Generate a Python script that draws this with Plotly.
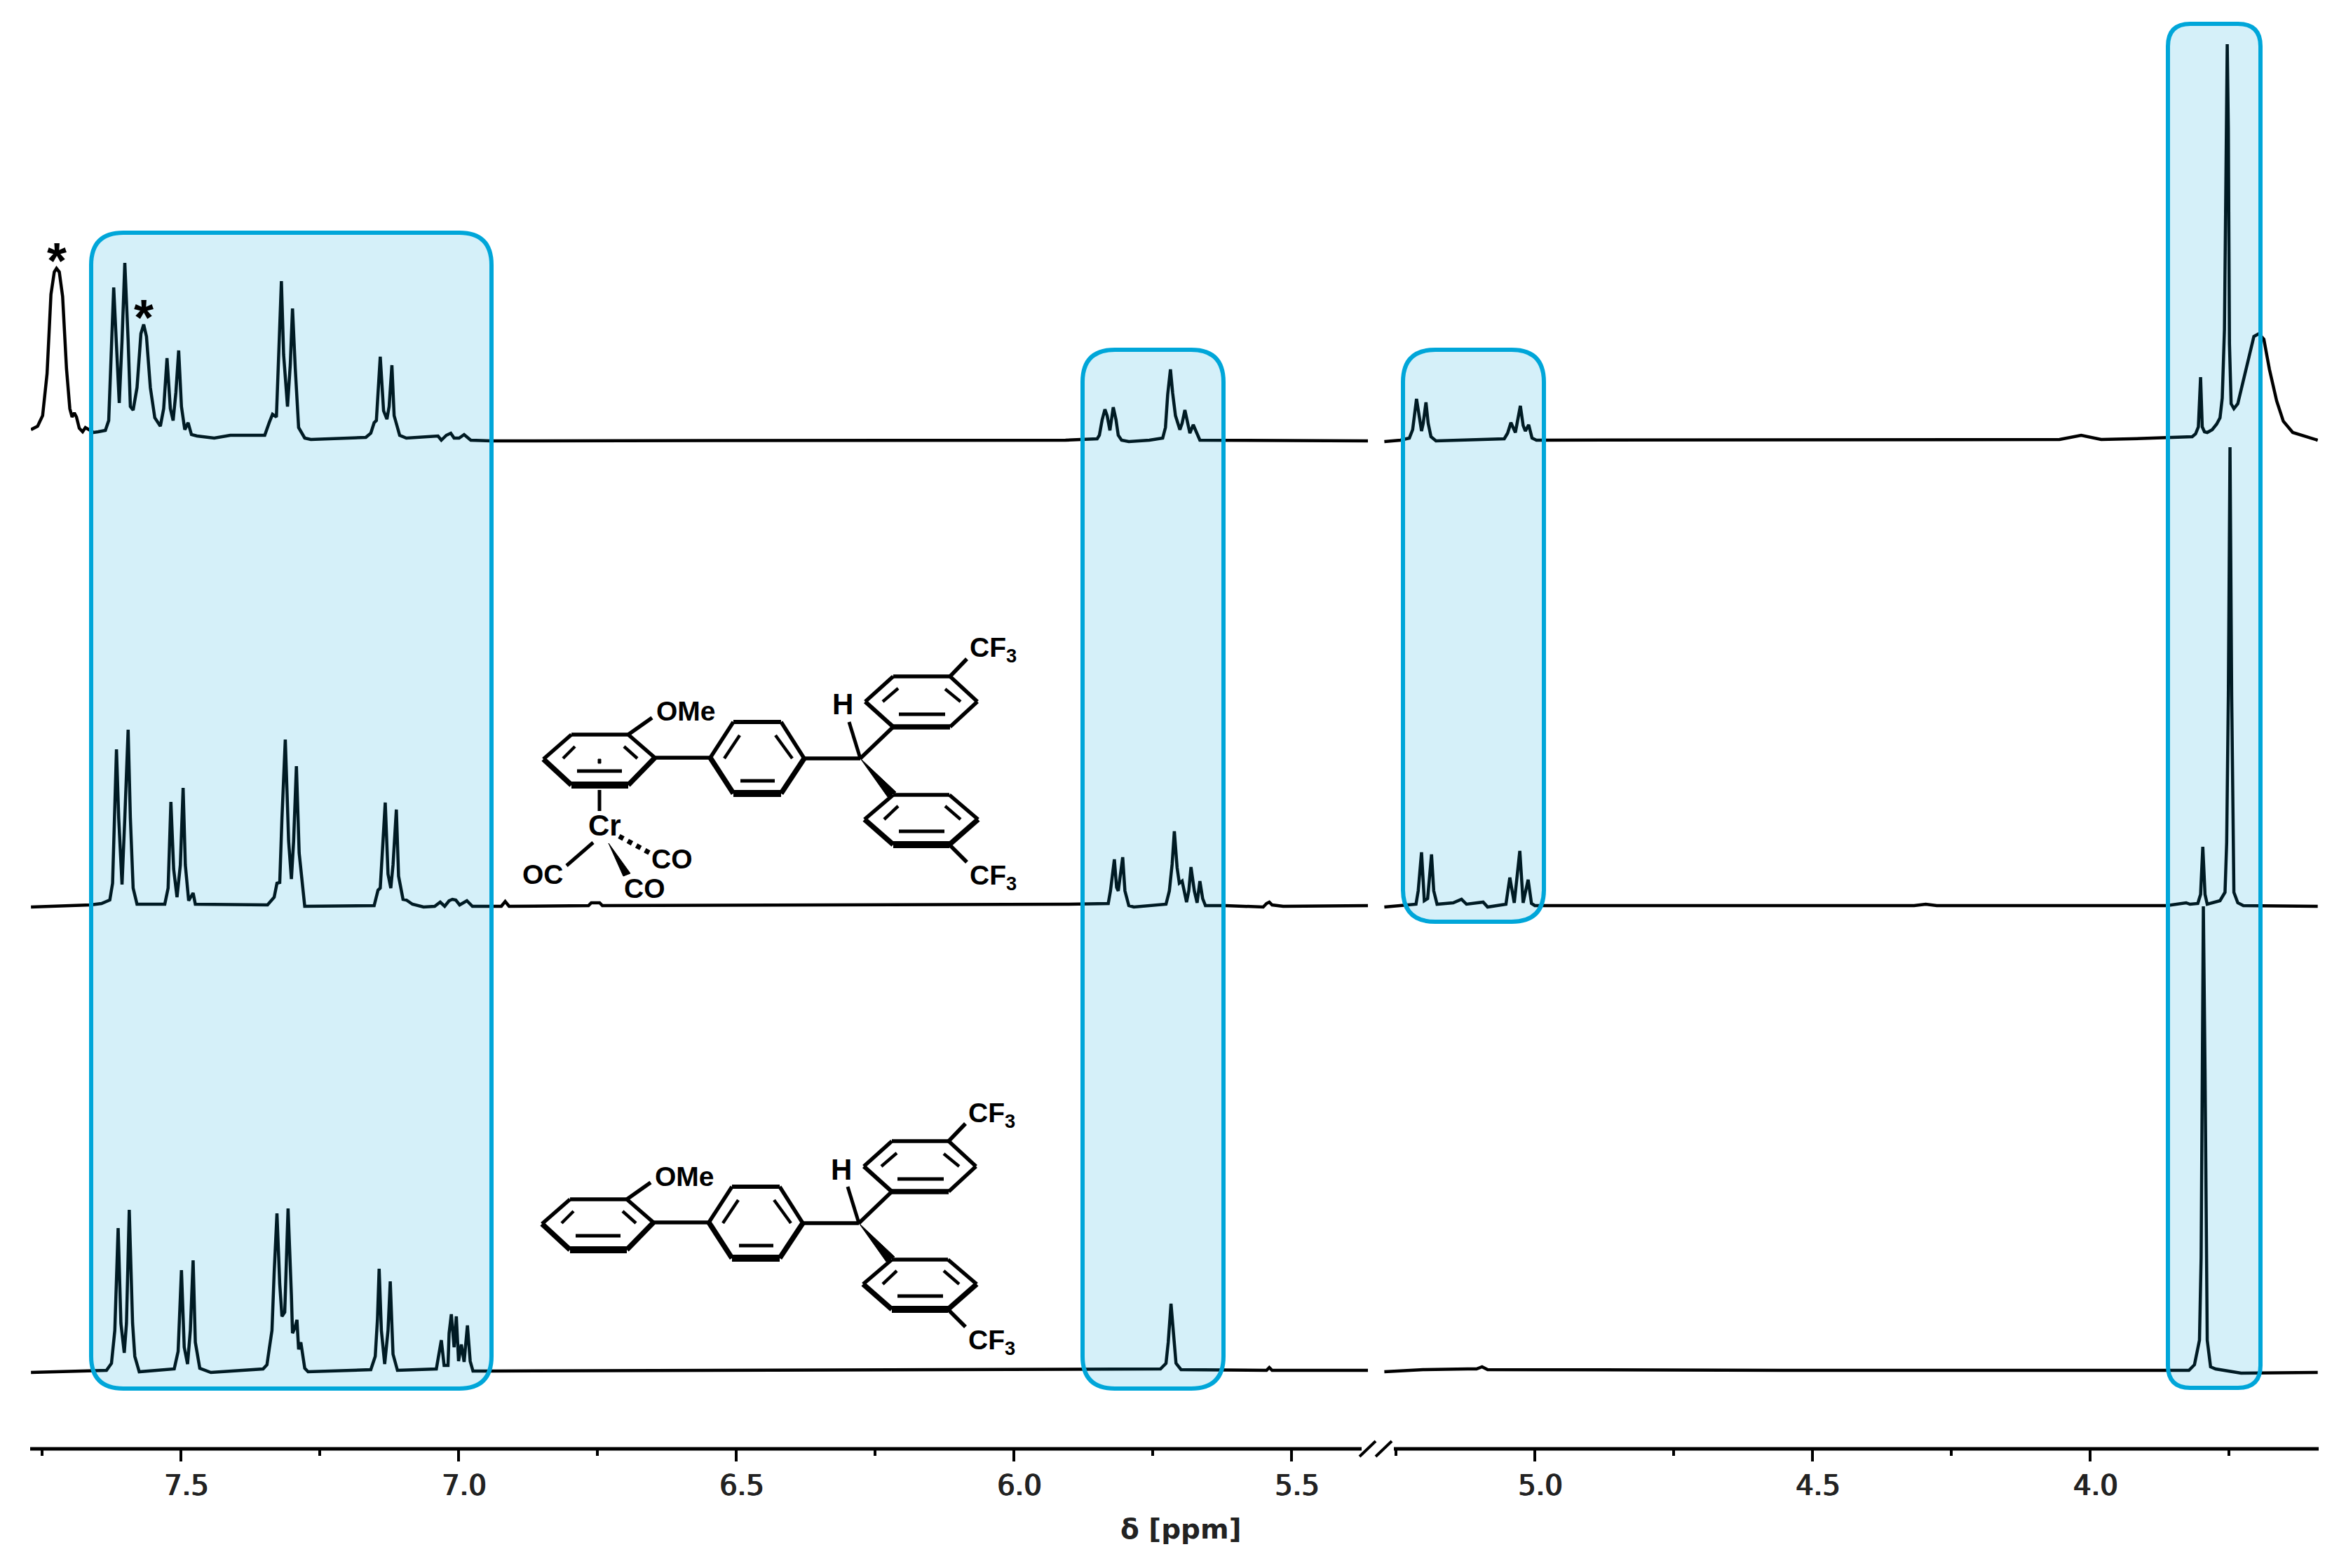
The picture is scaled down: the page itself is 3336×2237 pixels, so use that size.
import plotly.graph_objects as go

# --- spectra: ppm and height above each baseline ---
top_left_ppm = [7.770, 7.758, 7.749, 7.741, 7.734, 7.728, 7.724, 7.719, 7.713, 7.706, 7.700, 7.696, 7.692, 7.688, 7.683, 7.677, 7.672, 7.666, 7.657, 7.649, 7.636, 7.630, 7.625, 7.621, 7.616, 7.611, 7.606, 7.601, 7.595, 7.591, 7.586, 7.579, 7.572, 7.567, 7.562, 7.555, 7.547, 7.537, 7.531, 7.525, 7.519, 7.514, 7.509, 7.504, 7.499, 7.493, 7.487, 7.481, 7.471, 7.440, 7.411, 7.349, 7.341, 7.335, 7.328, 7.323, 7.319, 7.315, 7.308, 7.303, 7.299, 7.294, 7.288, 7.277, 7.266, 7.167, 7.158, 7.152, 7.148, 7.141, 7.135, 7.129, 7.125, 7.120, 7.116, 7.106, 7.094, 7.037, 7.031, 7.022, 7.014, 7.008, 6.999, 6.990, 6.978, 6.941, 6.405, 5.907, 5.850, 5.846, 5.841, 5.836, 5.832, 5.827, 5.821, 5.816, 5.812, 5.806, 5.793, 5.756, 5.732, 5.727, 5.723, 5.718, 5.714, 5.709, 5.701, 5.697, 5.692, 5.687, 5.683, 5.677, 5.671, 5.665, 5.362]
top_left_int = [15, 20, 35, 95, 208, 240, 245, 240, 205, 102, 45, 33, 39, 33, 17, 12, 18, 15, 11, 12, 14, 28, 142, 218, 135, 53, 142, 253, 142, 48, 43, 75, 152, 165, 148, 75, 32, 20, 45, 117, 45, 28, 68, 128, 48, 15, 25, 8, 6, 3, 7, 7, 25, 37, 33, 142, 227, 122, 48, 108, 188, 102, 18, 3, 1, 4, 10, 25, 28, 119, 42, 30, 48, 107, 35, 7, 3, 6, 0, 7, 10, 3, 3, 8, 0, -1, 0, 0, 2, 7, 29, 44, 35, 14, 47, 29, 7, 0, -2, 0, 3, 18, 65, 101, 67, 35, 15, 24, 43, 24, 10, 22, 10, 0, -1]
top_right_ppm = [5.271, 5.242, 5.226, 5.220, 5.213, 5.208, 5.204, 5.201, 5.196, 5.192, 5.187, 5.178, 5.055, 5.049, 5.043, 5.035, 5.026, 5.021, 5.017, 5.011, 5.005, 4.997, 4.055, 4.016, 3.980, 3.926, 3.864, 3.816, 3.810, 3.805, 3.801, 3.798, 3.794, 3.789, 3.780, 3.772, 3.766, 3.762, 3.758, 3.755, 3.753, 3.751, 3.749, 3.746, 3.741, 3.734, 3.724, 3.713, 3.705, 3.696, 3.687, 3.677, 3.664, 3.652, 3.635, 3.590]
top_right_int = [-2, 0, 3, 15, 59, 29, 13, 24, 54, 24, 5, -1, 2, 10, 25, 11, 49, 21, 13, 22, 3, 0, 1, 7, 1, 2, 4, 5, 9, 19, 90, 19, 12, 11, 15, 23, 32, 60, 158, 444, 565, 444, 138, 52, 45, 52, 85, 125, 148, 152, 144, 101, 56, 27, 11, 0]

mid_left_ppm = [7.770, 7.663, 7.643, 7.628, 7.623, 7.620, 7.616, 7.612, 7.606, 7.601, 7.595, 7.591, 7.586, 7.579, 7.529, 7.523, 7.518, 7.513, 7.507, 7.501, 7.496, 7.492, 7.486, 7.478, 7.474, 7.344, 7.332, 7.327, 7.322, 7.318, 7.312, 7.306, 7.301, 7.297, 7.292, 7.287, 7.277, 7.152, 7.145, 7.141, 7.136, 7.132, 7.127, 7.122, 7.118, 7.112, 7.108, 7.100, 7.094, 7.083, 7.063, 7.043, 7.033, 7.025, 7.017, 7.011, 7.005, 6.998, 6.985, 6.975, 6.941, 6.923, 6.916, 6.909, 6.766, 6.761, 6.746, 6.741, 5.907, 5.830, 5.826, 5.819, 5.815, 5.812, 5.804, 5.800, 5.793, 5.784, 5.726, 5.720, 5.715, 5.711, 5.706, 5.702, 5.697, 5.689, 5.685, 5.681, 5.675, 5.670, 5.665, 5.660, 5.655, 5.619, 5.551, 5.545, 5.540, 5.535, 5.515, 5.362]
mid_left_int = [-2, 1, 3, 8, 32, 125, 223, 125, 30, 125, 251, 125, 25, 2, 2, 25, 148, 52, 12, 58, 168, 58, 7, 18, 2, 1, 12, 32, 33, 125, 237, 92, 38, 92, 199, 75, -1, 0, 22, 25, 92, 147, 45, 25, 58, 137, 42, 9, 8, 2, -2, -1, 5, -1, 7, 9, 8, 1, 7, -1, -1, -1, 6, -1, 0, 4, 4, 0, 2, 3, 21, 66, 26, 21, 69, 21, 0, -2, 2, 21, 59, 106, 54, 32, 35, 5, 21, 55, 21, 4, 35, 10, 0, 0, -2, 3, 5, 1, -1, 0]
mid_right_ppm = [5.271, 5.214, 5.210, 5.204, 5.199, 5.193, 5.186, 5.182, 5.176, 5.147, 5.132, 5.123, 5.093, 5.085, 5.052, 5.045, 5.037, 5.027, 5.021, 5.012, 5.006, 5.000, 4.317, 4.296, 4.276, 3.926, 3.862, 3.827, 3.820, 3.806, 3.801, 3.797, 3.793, 3.789, 3.766, 3.757, 3.754, 3.751, 3.748, 3.745, 3.743, 3.741, 3.734, 3.724, 3.590]
mid_right_int = [-2, 2, 21, 76, 7, 10, 73, 21, 2, 4, 9, 2, 5, -2, 2, 40, 4, 78, 4, 37, 3, 0, 0, 2, 0, 0, 0, 4, 2, 3, 16, 84, 16, 2, 7, 19, 90, 300, 654, 300, 90, 19, 4, 0, -1]

bot_left_ppm = [7.770, 7.663, 7.634, 7.625, 7.619, 7.613, 7.608, 7.602, 7.598, 7.593, 7.587, 7.583, 7.575, 7.512, 7.505, 7.499, 7.494, 7.488, 7.483, 7.478, 7.474, 7.466, 7.446, 7.352, 7.345, 7.341, 7.336, 7.332, 7.327, 7.322, 7.318, 7.313, 7.307, 7.301, 7.299, 7.295, 7.291, 7.288, 7.284, 7.277, 7.271, 7.158, 7.150, 7.146, 7.143, 7.139, 7.133, 7.127, 7.123, 7.118, 7.110, 7.040, 7.035, 7.031, 7.026, 7.019, 7.017, 7.013, 7.008, 7.004, 7.000, 6.995, 6.990, 6.984, 6.979, 6.974, 6.941, 5.736, 5.726, 5.722, 5.717, 5.712, 5.708, 5.699, 5.545, 5.540, 5.535, 5.362]
bot_left_int = [-3, -1, 0, 10, 57, 203, 67, 25, 67, 229, 67, 20, -2, 2, 27, 143, 33, 9, 57, 157, 40, 3, -3, 2, 8, 30, 57, 140, 224, 123, 77, 83, 231, 107, 53, 60, 72, 30, 40, 3, -2, 1, 20, 73, 145, 57, 9, 57, 127, 23, 0, 2, 23, 43, 7, 7, 53, 80, 33, 77, 13, 37, 12, 64, 13, -1, -1, 2, 10, 40, 95, 40, 10, 1, 0, 4, 0, 0]
bot_right_ppm = [5.271, 5.201, 5.121, 5.105, 5.095, 5.085, 4.497, 3.862, 3.822, 3.812, 3.803, 3.800, 3.798, 3.796, 3.793, 3.791, 3.789, 3.783, 3.774, 3.728, 3.590]
bot_right_int = [-2, 1, 2, 2, 5, 1, 0, 0, 0, 8, 43, 161, 428, 662, 428, 161, 43, 5, 2, -4, -3]

# how far each spectrum is lifted above the bottom of the figure
top_offset = 1609
mid_offset = 945
bot_offset = 282

W, H = 3336, 2237


def px(x):
    return x / W


def py(y):
    return 1 - y / H


fig = go.Figure()

for ppm, vals, off, xa in [
    (top_left_ppm, top_left_int, top_offset, "x"),
    (top_right_ppm, top_right_int, top_offset, "x2"),
    (mid_left_ppm, mid_left_int, mid_offset, "x"),
    (mid_right_ppm, mid_right_int, mid_offset, "x2"),
    (bot_left_ppm, bot_left_int, bot_offset, "x"),
    (bot_right_ppm, bot_right_int, bot_offset, "x2"),
]:
    fig.add_trace(go.Scatter(x=ppm, y=[v + off for v in vals], xaxis=xa, yaxis="y", mode="lines",
                             line=dict(color="#000000", width=4.5), showlegend=False, hoverinfo="skip"))

shapes = []


def seg(x0, y0, x1, y1, w=5.5, color="#000000", dash=None):
    line = dict(color=color, width=w)
    if dash:
        line["dash"] = dash
    shapes.append(dict(type="line", xref="paper", yref="paper", x0=px(x0), y0=py(y0), x1=px(x1), y1=py(y1), line=line))


def poly(points):
    d = "M " + " L ".join(f"{px(a):.5f},{py(b):.5f}" for a, b in points) + " Z"
    shapes.append(dict(type="path", xref="paper", yref="paper", path=d, fillcolor="#000000", line=dict(color="#000000", width=1)))


def round_box(l, t, r, b, rad):
    # rounded rectangle for the highlighted regions, sits over the traces so lines tint teal
    p = (f"M {px(l + rad):.5f},{py(t):.5f} L {px(r - rad):.5f},{py(t):.5f} "
         f"Q {px(r):.5f},{py(t):.5f} {px(r):.5f},{py(t + rad):.5f} "
         f"L {px(r):.5f},{py(b - rad):.5f} Q {px(r):.5f},{py(b):.5f} {px(r - rad):.5f},{py(b):.5f} "
         f"L {px(l + rad):.5f},{py(b):.5f} Q {px(l):.5f},{py(b):.5f} {px(l):.5f},{py(b - rad):.5f} "
         f"L {px(l):.5f},{py(t + rad):.5f} Q {px(l):.5f},{py(t):.5f} {px(l + rad):.5f},{py(t):.5f} Z")
    shapes.append(dict(type="path", xref="paper", yref="paper", path=p, fillcolor="rgba(0,166,217,0.165)",
                       line=dict(color="#00a6d9", width=6), layer="above"))


round_box(130, 332, 701, 1981, 46)
round_box(1544, 499, 1745, 1981, 46)
round_box(2001, 499, 2202, 1315, 46)
round_box(3092, 34, 3224, 1980, 32)

# broken x axis
seg(43, 2067, 1942, 2067, 5)
seg(1988, 2067, 3307, 2067, 5)
seg(1939, 2078, 1962, 2056, 4)
seg(1962, 2078, 1985, 2056, 4)


def molecule(dx, dy):
    def s(a, b, c, d, w=5.5):
        seg(a + dx, b + dy, c + dx, d + dy, w)

    # anisole ring
    s(773, 1746, 813, 1711)
    s(813, 1711, 894, 1711)
    s(894, 1711, 932, 1744)
    s(932, 1744, 894, 1783, 7.5)
    s(894, 1783, 813, 1783, 10)
    s(813, 1783, 773, 1746, 7.5)
    s(801, 1745, 818, 1728, 4.5)
    s(888, 1728, 907, 1745, 4.5)
    s(821, 1763, 885, 1763, 5)
    s(894, 1711, 928, 1687)
    s(932, 1744, 1011, 1744)
    # central ring
    s(1011, 1744, 1044, 1693)
    s(1044, 1693, 1112, 1693, 6)
    s(1112, 1693, 1145, 1745)
    s(1145, 1745, 1112, 1795, 7.5)
    s(1112, 1795, 1044, 1795, 10)
    s(1044, 1795, 1011, 1744, 7.5)
    s(1031, 1745, 1053, 1712, 4.5)
    s(1104, 1712, 1128, 1745, 4.5)
    s(1054, 1777, 1103, 1777, 5)
    s(1145, 1745, 1225, 1745)
    # CH centre
    s(1225, 1745, 1209, 1693, 5)
    s(1225, 1745, 1272, 1700)
    poly([(1225 + dx, 1745 + dy), (1264 + dx, 1800 + dy), (1276 + dx, 1793 + dy)])
    # upper aryl
    s(1272, 1700, 1353, 1700, 7.5)
    s(1353, 1700, 1392, 1664)
    s(1392, 1664, 1353, 1628)
    s(1353, 1628, 1272, 1628)
    s(1272, 1628, 1232, 1664)
    s(1232, 1664, 1272, 1700, 6)
    s(1280, 1682, 1346, 1682, 5)
    s(1257, 1664, 1279, 1645, 4.5)
    s(1346, 1646, 1368, 1664, 4.5)
    s(1353, 1628, 1377, 1603)
    # lower aryl
    s(1272, 1797, 1352, 1797)
    s(1352, 1797, 1393, 1832)
    s(1393, 1832, 1352, 1868, 7.5)
    s(1352, 1868, 1272, 1868, 10)
    s(1272, 1868, 1231, 1832, 7.5)
    s(1231, 1832, 1272, 1797)
    s(1259, 1832, 1279, 1813, 4.5)
    s(1346, 1813, 1368, 1832, 4.5)
    s(1280, 1849, 1345, 1849, 5)
    s(1352, 1868, 1377, 1893)


molecule(0, 0)
molecule(2, -663)

# Cr(CO)3 fragment
poly([(853, 1083), (857, 1083), (857, 1089), (853, 1089)])
seg(855, 1127, 855, 1157, 5)
seg(846, 1202, 808, 1235, 5)
poly([(868, 1203), (889, 1250), (899, 1246)])
seg(883, 1193, 927, 1217, 7, dash="dot")

annotations = []


def label(x, y, text, size=39, font="Liberation Sans", color="#000000", bold=True):
    annotations.append(dict(x=px(x), y=py(y), xref="paper", yref="paper", text=f"<b>{text}</b>" if bold else text,
                            showarrow=False, xanchor="center", yanchor="middle",
                            font=dict(family=font, size=size, color=color)))


for dx, dy in [(0, 0), (2, -663)]:
    label(976 + dx, 1678 + dy, "OMe")
    label(1200 + dx, 1668 + dy, "H", size=42)
    label(1414 + dx, 1590 + dy, "CF<sub>3</sub>")
    label(1414 + dx, 1914 + dy, "CF<sub>3</sub>")
label(862, 1177, "Cr", size=42)
label(774, 1247, "OC")
label(919, 1267, "CO")
label(958, 1225, "CO")
label(81, 372, "*", size=72)
label(205, 453, "*", size=72)
label(1684, 2181, "δ [ppm]", size=39, font="DejaVu Sans", color="#222222")

axis_style = dict(showgrid=False, zeroline=False, showline=False, anchor="free", position=(H - 2067) / H,
                  ticks="outside", ticklen=17, tickwidth=4, tickcolor="#000000", dtick=0.5, tick0=0,
                  tickformat=".1f", ticklabelshift=-8,
                  tickfont=dict(family="DejaVu Sans", size=40, color="#222222",
                                shadow="0.8px 0 0 #222222, -0.8px 0 0 #222222"),
                  minor=dict(dtick=0.25, tick0=0, ticks="outside", ticklen=9, tickwidth=4, tickcolor="#000000"))

fig.update_layout(
    width=W,
    height=H,
    autosize=False,
    margin=dict(l=0, r=0, t=0, b=0),
    paper_bgcolor="#ffffff",
    plot_bgcolor="rgba(0,0,0,0)",
    showlegend=False,
    xaxis=dict(domain=[44 / W, 1951 / W], range=[7.7702, 5.3624], **axis_style),
    xaxis2=dict(domain=[1974 / W, 3306 / W], range=[5.2715, 3.5896], **axis_style),
    yaxis=dict(domain=[0, 1], range=[0, H], visible=False),
    shapes=shapes,
    annotations=annotations,
)

fig.write_html("out.html", config={"displayModeBar": False}, post_script="document.body.style.margin='0';")
